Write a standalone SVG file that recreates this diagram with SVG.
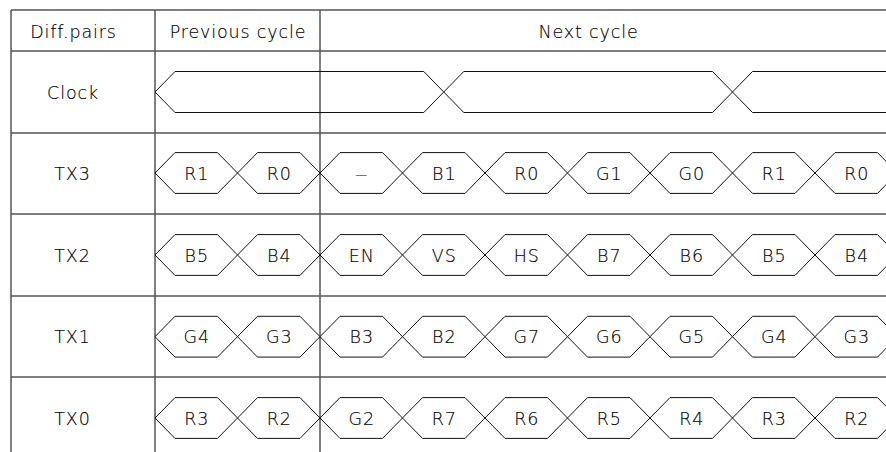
<svg xmlns="http://www.w3.org/2000/svg" xmlns:xlink="http://www.w3.org/1999/xlink" width="886" height="452" viewBox="0 0 886 452">
<style>
.grid{stroke:#555;stroke-width:1.5;fill:none}
.wave{stroke:#111;stroke-width:1;fill:none}
text{font-family:"DejaVu Sans","Liberation Sans",sans-serif;font-weight:200;font-size:17.5px;letter-spacing:0.85px;fill:#000;stroke:#000;stroke-width:0.15px;text-anchor:middle}
</style>
<defs>
<path id="hex" class="wave" d="M0,0 L20,-20.4 L62.5,-20.4 L82.5,0 L62.5,20.4 L20,20.4 Z"/>
</defs>
<rect width="886" height="452" fill="#fff"/>
<g id="grid" class="grid">
<line x1="11" y1="10" x2="886" y2="10"/>
<line x1="11" y1="51" x2="886" y2="51"/>
<line x1="11" y1="133" x2="886" y2="133"/>
<line x1="11" y1="214" x2="886" y2="214"/>
<line x1="11" y1="296" x2="886" y2="296"/>
<line x1="11" y1="377" x2="886" y2="377"/>
<line x1="11" y1="10" x2="11" y2="452"/>
<line x1="155" y1="10" x2="155" y2="452"/>
<line x1="320" y1="10" x2="320" y2="452"/>
</g>
<g id="header">
<text x="73.5" y="37.8">Diff.pairs</text>
<text x="238" y="37.8">Previous cycle</text>
<text x="588.5" y="37.8">Next cycle</text>
</g>
<g id="clock">
<text x="73" y="98.8">Clock</text>
<path class="wave" d="M155,92 L175,71.5 L423.75,71.5 L463.75,112.5 L712.5,112.5 L752.5,71.5 L886,71.5"/>
<path class="wave" d="M155,92 L175,112.5 L423.75,112.5 L463.75,71.5 L712.5,71.5 L752.5,112.5 L886,112.5"/>
</g>
<g id="tx3">
<text x="72.5" y="179.8">TX3</text>
<use xlink:href="#hex" x="155" y="173"/><use xlink:href="#hex" x="237.5" y="173"/><use xlink:href="#hex" x="320" y="173"/><use xlink:href="#hex" x="402.5" y="173"/><use xlink:href="#hex" x="485" y="173"/><use xlink:href="#hex" x="567.5" y="173"/><use xlink:href="#hex" x="650" y="173"/><use xlink:href="#hex" x="732.5" y="173"/><use xlink:href="#hex" x="815" y="173"/>
<text x="196.75" y="179.8">R1</text><text x="279.25" y="179.8">R0</text><text x="361.25" y="179" style="font-size:12px;letter-spacing:0">—</text><text x="444.25" y="179.8">B1</text><text x="526.75" y="179.8">R0</text><text x="609.25" y="179.8">G1</text><text x="691.75" y="179.8">G0</text><text x="774.25" y="179.8">R1</text><text x="856.75" y="179.8">R0</text>
</g>
<g id="tx2">
<text x="72.5" y="261.8">TX2</text>
<use xlink:href="#hex" x="155" y="255"/><use xlink:href="#hex" x="237.5" y="255"/><use xlink:href="#hex" x="320" y="255"/><use xlink:href="#hex" x="402.5" y="255"/><use xlink:href="#hex" x="485" y="255"/><use xlink:href="#hex" x="567.5" y="255"/><use xlink:href="#hex" x="650" y="255"/><use xlink:href="#hex" x="732.5" y="255"/><use xlink:href="#hex" x="815" y="255"/>
<text x="196.75" y="261.8">B5</text><text x="279.25" y="261.8">B4</text><text x="361.75" y="261.8">EN</text><text x="444.25" y="261.8">VS</text><text x="526.75" y="261.8">HS</text><text x="609.25" y="261.8">B7</text><text x="691.75" y="261.8">B6</text><text x="774.25" y="261.8">B5</text><text x="856.75" y="261.8">B4</text>
</g>
<g id="tx1">
<text x="72.5" y="343.3">TX1</text>
<use xlink:href="#hex" x="155" y="336.7"/><use xlink:href="#hex" x="237.5" y="336.7"/><use xlink:href="#hex" x="320" y="336.7"/><use xlink:href="#hex" x="402.5" y="336.7"/><use xlink:href="#hex" x="485" y="336.7"/><use xlink:href="#hex" x="567.5" y="336.7"/><use xlink:href="#hex" x="650" y="336.7"/><use xlink:href="#hex" x="732.5" y="336.7"/><use xlink:href="#hex" x="815" y="336.7"/>
<text x="196.75" y="343.3">G4</text><text x="279.25" y="343.3">G3</text><text x="361.75" y="343.3">B3</text><text x="444.25" y="343.3">B2</text><text x="526.75" y="343.3">G7</text><text x="609.25" y="343.3">G6</text><text x="691.75" y="343.3">G5</text><text x="774.25" y="343.3">G4</text><text x="856.75" y="343.3">G3</text>
</g>
<g id="tx0">
<text x="72.5" y="424.8">TX0</text>
<use xlink:href="#hex" x="155" y="418"/><use xlink:href="#hex" x="237.5" y="418"/><use xlink:href="#hex" x="320" y="418"/><use xlink:href="#hex" x="402.5" y="418"/><use xlink:href="#hex" x="485" y="418"/><use xlink:href="#hex" x="567.5" y="418"/><use xlink:href="#hex" x="650" y="418"/><use xlink:href="#hex" x="732.5" y="418"/><use xlink:href="#hex" x="815" y="418"/>
<text x="196.75" y="424.8">R3</text><text x="279.25" y="424.8">R2</text><text x="361.75" y="424.8">G2</text><text x="444.25" y="424.8">R7</text><text x="526.75" y="424.8">R6</text><text x="609.25" y="424.8">R5</text><text x="691.75" y="424.8">R4</text><text x="774.25" y="424.8">R3</text><text x="856.75" y="424.8">R2</text>
</g>
</svg>
